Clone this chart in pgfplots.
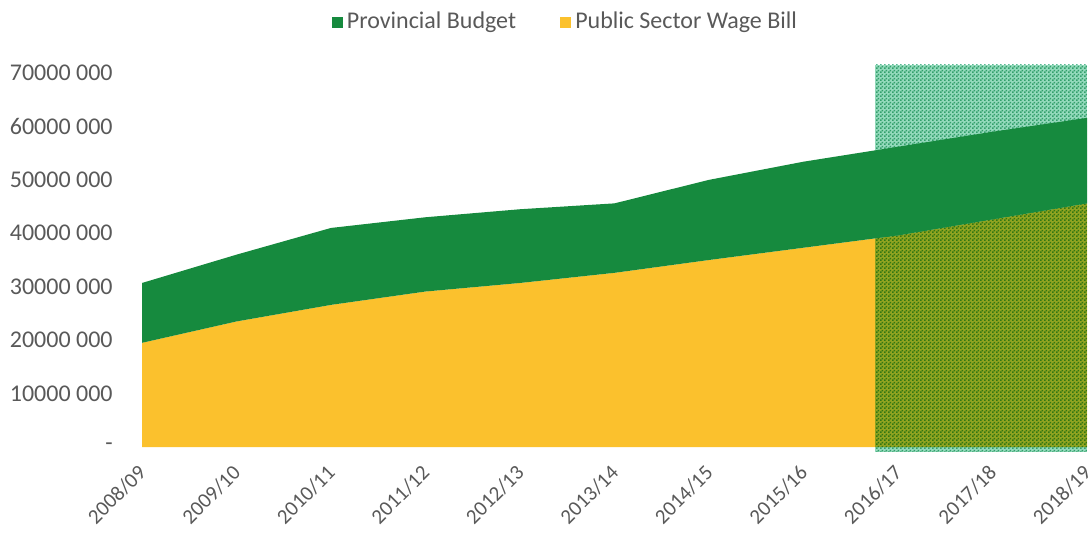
\documentclass[border=0pt]{standalone}
\usepackage{pgfplots}
\pgfplotsset{compat=1.18}
\usepgfplotslibrary{fillbetween}
\usepackage{fontspec}
\setmainfont{Carlito}
\usetikzlibrary{patterns.meta}

\definecolor{budgetgreen}{RGB}{22,138,62}
\definecolor{wageyellow}{RGB}{251,193,45}
\definecolor{hatchlight}{RGB}{148,218,188}
\definecolor{dotgreen}{RGB}{88,186,146}
\definecolor{labelgray}{RGB}{89,89,89}

% fine checker dots used for the forecast years
\tikzdeclarepattern{
  name=finedots,
  type=uncolored,
  bounding box={(0,0) and (2bp,2bp)},
  tile size={(2bp,2bp)},
  code={
    \fill (0,0) rectangle (1bp,1bp);
    \fill (1bp,1bp) rectangle (2bp,2bp);
  }
}

\pgfplotstableread{
x budget wage
0  30.7e6 19.5e6
1  36.0e6 23.5e6
2  41.0e6 26.6e6
3  43.0e6 29.1e6
4  44.5e6 30.7e6
5  45.6e6 32.6e6
6  50.0e6 35.0e6
7  53.4e6 37.3e6
8  56.2e6 39.6e6
9  59.0e6 42.6e6
10 61.6e6 45.6e6
}\datatable

\begin{document}
\fontsize{12bp}{14bp}\selectfont
\begin{tikzpicture}
\begin{axis}[
  at={(0,0)}, anchor=south west,
  scale only axis,
  width=472.5bp, height=187bp,
  xmin=0, xmax=10, ymin=0, ymax=70e6,
  clip=false,
  scaled y ticks=false,
  axis line style={draw=none},
  tick style={draw=none},
  major tick length=0pt,
  xtick={0,...,10},
  xticklabels={2008/09,2009/10,2010/11,2011/12,2012/13,2013/14,2014/15,2015/16,2016/17,2017/18,2018/19},
  ytick={0,10e6,20e6,30e6,40e6,50e6,60e6,70e6},
  yticklabels={{-\hspace{6.5bp}},10000 000,20000 000,30000 000,40000 000,50000 000,60000 000,70000 000},
  yticklabel style={anchor=east, inner sep=0pt, xshift=-14.5bp,
    font=\fontsize{12bp}{14bp}\selectfont, text=labelgray},
  xticklabel style={rotate=45, anchor=north east, inner sep=0pt, xshift=-7.6bp, yshift=-3.9bp,
    font=\fontsize{10.5bp}{12.5bp}\selectfont, text=labelgray},
  legend style={
    at={(axis description cs:0.449,1.136)}, anchor=center,
    draw=none, fill=none,
    legend columns=2,
    font=\fontsize{12bp}{14bp}\selectfont,
    text=labelgray,
    /tikz/every even column/.append style={column sep=20bp},
  },
  legend image code/.code={
    \fill[#1] (0bp,-2.8bp) rectangle (5.6bp,2.8bp);
  },
]
\addlegendimage{fill=budgetgreen, draw=none}
\addlegendentry{Provincial Budget}
\addlegendimage{fill=wageyellow, draw=none}
\addlegendentry{Public Sector Wage Bill}

% boundary curves of the two series
\addplot[forget plot, draw=none, name path=budget] table[x=x, y=budget] {\datatable};
\addplot[forget plot, draw=none, name path=wage] table[x=x, y=wage] {\datatable};

% wage bill from zero
\addplot[forget plot, fill=wageyellow, draw=none] table[x=x, y=wage] {\datatable} \closedcycle;

% shaded block over the forecast years, multiplied onto the areas below
\addplot[forget plot, draw=none, fill=hatchlight, blend mode=multiply]
  coordinates {(7.76,-0.9e6) (10,-0.9e6) (10,71.5e6) (7.76,71.5e6)} -- cycle;
\addplot[forget plot, draw=none, pattern={finedots}, pattern color=dotgreen, blend mode=multiply]
  coordinates {(7.76,-0.9e6) (10,-0.9e6) (10,71.5e6) (7.76,71.5e6)} -- cycle;

% remainder of the provincial budget above the wage bill, drawn on top
\addplot[forget plot, fill=budgetgreen, draw=none]
  fill between[of=budget and wage, on layer=main];
\end{axis}
\pgfresetboundingbox
\path[use as bounding box] (-71bp,-47bp) rectangle (475bp,223.5bp);
\end{tikzpicture}
\end{document}
